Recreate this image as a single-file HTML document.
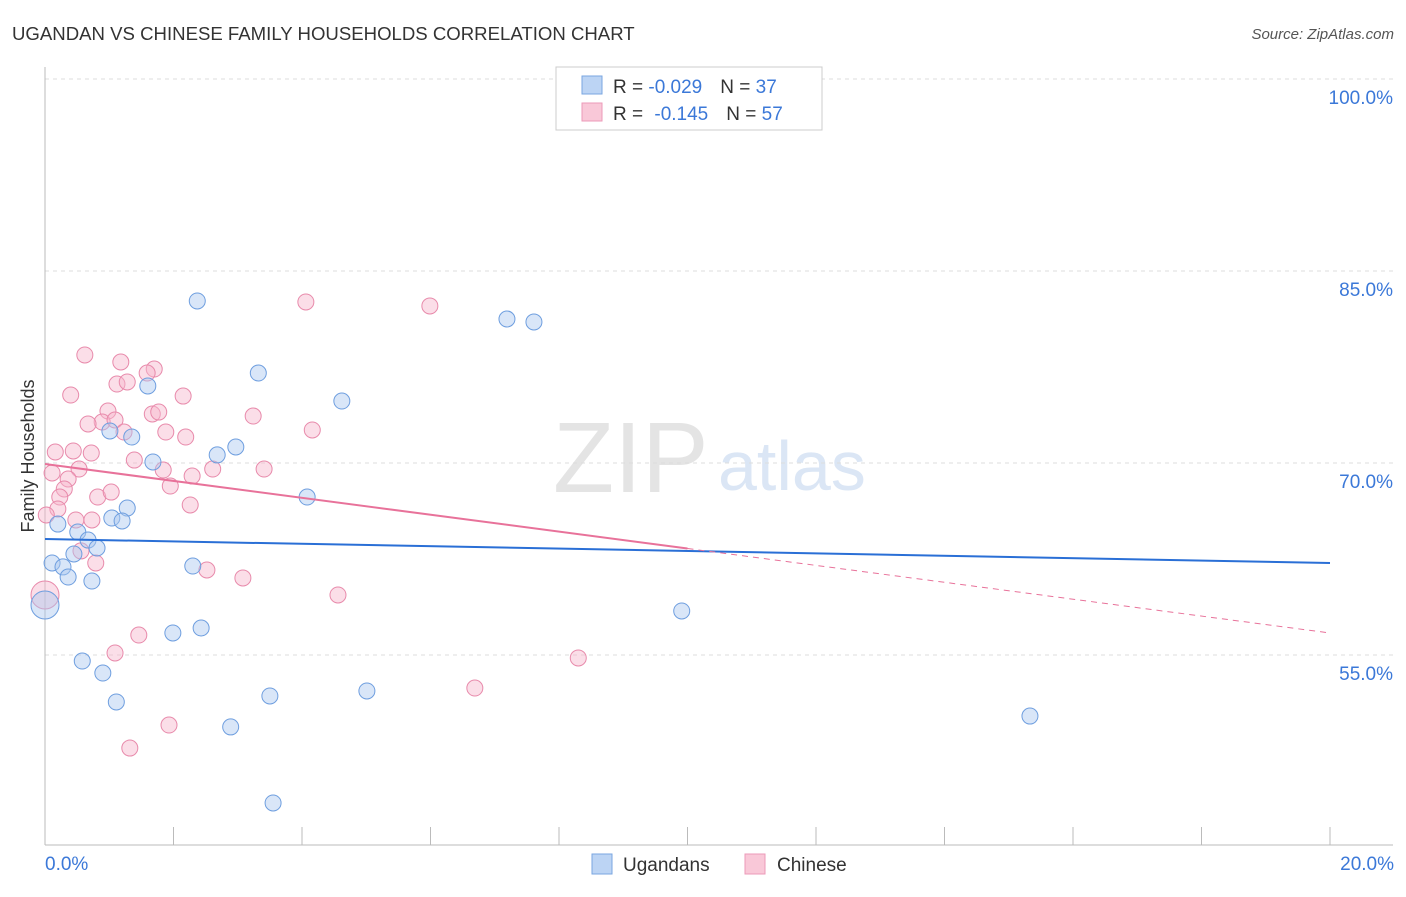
<!DOCTYPE html>
<html><head><meta charset="utf-8"><style>
body{margin:0;background:#fff;font-family:"Liberation Sans",sans-serif}
svg text{font-family:"Liberation Sans",sans-serif}
</style></head><body>
<svg id="chart" width="1406" height="892" xmlns="http://www.w3.org/2000/svg">
<text x="12" y="40" font-size="18.6" fill="#333">UGANDAN VS CHINESE FAMILY HOUSEHOLDS CORRELATION CHART</text>
<text x="1394" y="39" font-size="15" fill="#555" font-style="italic" text-anchor="end">Source: ZipAtlas.com</text>
<text x="553" y="492" font-size="100" fill="#e4e4e4" font-family="Liberation Serif">ZIP</text>
<text x="718" y="490" font-size="70" fill="#dbe6f5">atlas</text>
<g id="grid"></g>
<g id="axes"></g>
<g id="marks"></g>
<text transform="translate(34,456) rotate(-90)" font-size="18" fill="#333" text-anchor="middle">Family Households</text>
<g>
<rect x="556" y="67" width="266" height="63" fill="#fff" stroke="#ccc"/>
<rect x="582" y="76" width="20" height="18" fill="#bcd4f4" stroke="#7aa6e0"/>
<rect x="582" y="103" width="20" height="18" fill="#f9c8d8" stroke="#ec9ab8"/>
<text x="613" y="93" font-size="19" fill="#333">R = <tspan fill="#3b78d8">-0.029</tspan><tspan dx="18">N = </tspan><tspan fill="#3b78d8">37</tspan></text>
<text x="613" y="120" font-size="19" fill="#333">R = <tspan fill="#3b78d8" dx="6">-0.145</tspan><tspan dx="18">N = </tspan><tspan fill="#3b78d8">57</tspan></text>
</g>
<g>
<rect x="592" y="854" width="20" height="20" fill="#bcd4f4" stroke="#7aa6e0"/>
<text x="623" y="871" font-size="19" fill="#333">Ugandans</text>
<rect x="745" y="854" width="20" height="20" fill="#f9c8d8" stroke="#ec9ab8"/>
<text x="777" y="871" font-size="19" fill="#333">Chinese</text>
</g>
</svg>
<script>
const xTickLabels=["0.0%","20.0%"];
const yTicks=[100,85,70,55];
const yTickLabels=["100.0%","85.0%","70.0%","55.0%"];
const blueX=[2.37,1.60,3.32,4.62,1.01,1.35,1.68,2.68,2.97,4.08,1.28,1.04,1.20,0.20,0.51,0.67,0.81,0.45,0.11,0.28,0.36,0.73,0.0,2.30,1.99,2.43,0.58,0.90,1.11,3.50,2.89,5.01,3.55,7.19,7.61,9.91,15.33];
const blueY=[82.66,76.02,77.03,74.84,72.5,72.03,70.08,70.63,71.25,67.34,66.48,65.7,65.47,65.23,64.61,63.98,63.36,62.89,62.19,61.88,61.09,60.78,58.91,61.95,56.72,57.11,54.53,53.59,51.33,51.80,49.38,52.19,43.44,81.25,81.02,58.44,50.23];
const pinkX=[0.62,1.18,1.70,0.40,1.12,1.28,1.59,2.15,0.98,0.89,1.09,0.67,1.67,1.77,3.24,4.16,1.23,1.88,2.19,0.16,0.44,0.72,1.39,0.53,1.84,2.61,3.41,2.29,0.11,0.36,0.30,1.95,0.23,0.82,1.03,2.26,0.20,0.02,0.48,0.73,0.56,0.79,2.52,3.08,4.56,4.06,5.99,1.46,1.09,8.30,6.69,1.93,1.32,0.0];
const pinkY=[78.44,77.89,77.34,75.31,76.17,76.33,77.03,75.23,74.06,73.20,73.36,73.05,73.83,73.98,73.67,72.58,72.42,72.42,72.03,70.86,70.94,70.78,70.23,69.53,69.45,69.53,69.53,68.98,69.22,68.75,67.97,68.20,67.34,67.34,67.73,66.72,66.41,65.94,65.55,65.55,63.13,62.19,61.64,61.02,59.69,82.58,82.27,56.56,55.16,54.77,52.42,49.53,47.73,59.69];
const blueTrend=[64.06,62.19];
const pinkTrend=[69.92,56.72];
const pinkSolidEnd=10;
const NS="http://www.w3.org/2000/svg";
const X=v=>45+v*64.25, Y=v=>79+(100-v)*12.8;
function mk(tag,attrs,parent){const e=document.createElementNS(NS,tag);for(const k in attrs)e.setAttribute(k,attrs[k]);parent.appendChild(e);return e;}
const grid=document.getElementById('grid'),axes=document.getElementById('axes'),marks=document.getElementById('marks');
yTicks.forEach((t,i)=>{
 const l=mk('line',{x1:45,x2:1393,y1:Y(t),y2:Y(t),stroke:'#ddd','stroke-dasharray':'4,4'},grid);
 
 
 const tx=mk('text',{x:1393,y:Y(t)+25,'font-size':19,fill:'#3b78d8','text-anchor':'end'},axes);
 tx.textContent=yTickLabels[i];
 
 
});
mk('line',{x1:45,x2:45,y1:67,y2:845,stroke:'#bbb'},axes);
mk('line',{x1:45,x2:1393,y1:845,y2:845,stroke:'#bbb'},axes);
for(let i=1;i<=10;i++){const t=mk('line',{x1:X(i*2),x2:X(i*2),y1:827,y2:845,stroke:'#bbb'},axes);
 
 }
const xl0=mk('text',{x:45,y:870,'font-size':19,fill:'#3b78d8'},axes);xl0.textContent=xTickLabels[0];


const xl1=mk('text',{x:1394,y:870,'font-size':19,fill:'#3b78d8','text-anchor':'end'},axes);xl1.textContent=xTickLabels[1];


function dots(xs,ys,fill,stroke,name){xs.forEach((x,i)=>{const big=x===0;
 const c=mk('circle',{cx:X(x),cy:Y(ys[i]),r:big?14:8,fill:fill,'fill-opacity':0.45,stroke:stroke,'stroke-width':1},marks);
 
 });}
dots(pinkX,pinkY,'#f7b6cb','#e88aab','point-chinese');
dots(blueX,blueY,'#aac8f0','#6e9edf','point-ugandans');
const ty=(tr,x)=>tr[0]+(tr[1]-tr[0])*x/20;
const bl=mk('line',{x1:X(0),y1:Y(blueTrend[0]),x2:X(20),y2:Y(blueTrend[1]),stroke:'#2a6fd6','stroke-width':2},marks);


const pl=mk('line',{x1:X(0),y1:Y(pinkTrend[0]),x2:X(pinkSolidEnd),y2:Y(ty(pinkTrend,pinkSolidEnd)),stroke:'#e8729a','stroke-width':2},marks);


const pd=mk('line',{x1:X(pinkSolidEnd),y1:Y(ty(pinkTrend,pinkSolidEnd)),x2:X(20),y2:Y(pinkTrend[1]),stroke:'#e8729a','stroke-width':1,'stroke-dasharray':'6,5'},marks);


</script>
</body></html>
